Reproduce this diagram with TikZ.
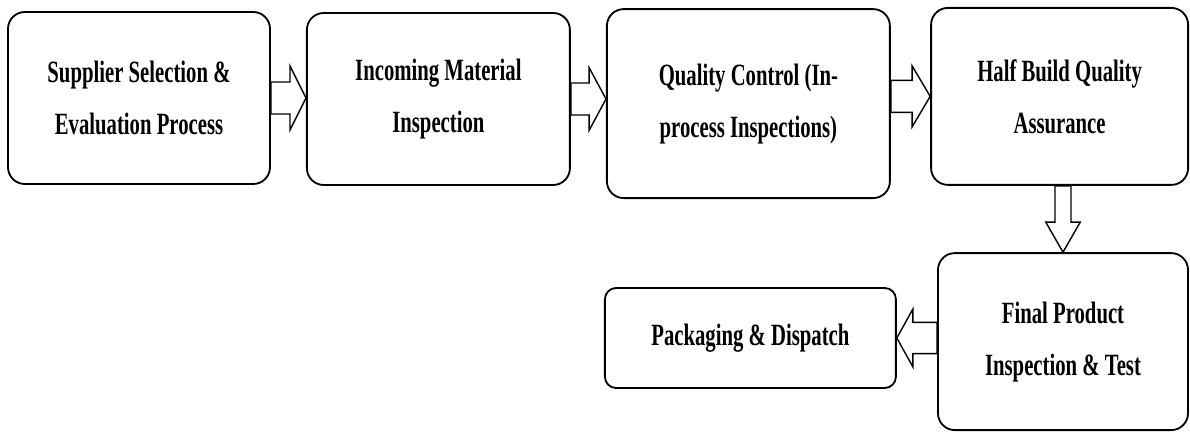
\documentclass[tikz,border=0pt]{standalone}
\usepackage{fontspec}
\newfontfamily\stagefont{Liberation Serif}[FakeStretch=0.67]
\usetikzlibrary{calc}
\tikzset{
stage/.style={ % Sets the look of each process box
draw,
line width=1.3pt,
rounded corners=0.42cm,
align=center,
font=\stagefont\bfseries\fontsize{22}{37}\selectfont},
hollow/.style={ % Open block arrows between the boxes
draw,
line width=1pt,
line join=miter}}

% tail #1, tip #2, half shaft #3, half head #4, head length #5
\newcommand{\blockarrow}[5]{%
  \coordinate (hb) at ($(#2)!#5!(#1)$);
  \draw[hollow] ($(#1)!#3!90:(#2)$) -- ($(hb)!#3!90:(#2)$)
    -- ($(hb)!#4!90:(#2)$) -- (#2) -- ($(hb)!#4!-90:(#2)$)
    -- ($(hb)!#3!-90:(#2)$) -- ($(#1)!#3!-90:(#2)$) -- cycle;}

\begin{document}
\begin{tikzpicture}
	\useasboundingbox (0,0) rectangle (29.75,-10.8);
	% top row
	\node[stage, minimum width=6.55cm, minimum height=4.3cm] (sel) at (3.475,-2.45) {Supplier Selection \&\\Evaluation Process};
	\node[stage, minimum width=6.575cm, minimum height=4.3cm] (inc) at (10.96,-2.475) {Incoming Material\\Inspection};
	\node[stage, minimum width=7.075cm, minimum height=4.725cm] (qc) at (18.71,-2.59) {Quality Control (In-\\process Inspections)};
	\node[stage, minimum width=6.425cm, minimum height=4.425cm] (half) at (26.49,-2.41) {Half Build Quality\\Assurance};
	% bottom row
	\node[stage, minimum width=6.25cm, minimum height=4.425cm] (fin) at (26.575,-8.54) {Final Product\\Inspection \& Test};
	\node[stage, minimum width=7.275cm, minimum height=2.5cm, rounded corners=0.28cm] (pack) at (18.76,-8.45) {Packaging \& Dispatch};
	% arrows
	\coordinate (t1) at (sel.east -| inc.west);
	\coordinate (t2) at (inc.east -| qc.west);
	\coordinate (s3) at (half.west -| qc.east);
	\coordinate (s4) at (fin.north |- half.south);
	\coordinate (s5) at (pack.east -| fin.west);
	\blockarrow{sel.east}{t1}{0.4cm}{0.8cm}{0.4cm}
	\blockarrow{inc.east}{t2}{0.4cm}{0.78cm}{0.42cm}
	\blockarrow{s3}{half.west}{0.4cm}{0.76cm}{0.45cm}
	\blockarrow{s4}{fin.north}{0.2cm}{0.43cm}{0.75cm}
	\blockarrow{s5}{pack.east}{0.39cm}{0.72cm}{0.4cm}
\end{tikzpicture}
\end{document}
